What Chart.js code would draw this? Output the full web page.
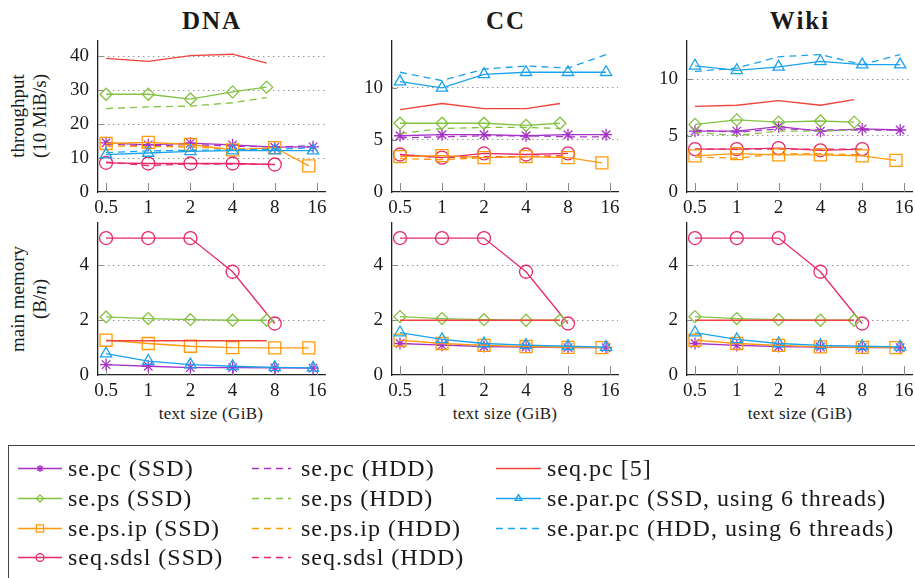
<!DOCTYPE html>
<html>
<head>
<meta charset="utf-8">
<script src="https://cdn.jsdelivr.net/npm/chart.js@4.4.0/dist/chart.umd.min.js"></script>
<style>
  body { margin: 0; background: #fff; width: 915px; height: 578px; overflow: hidden; position: relative;
         font-family: "Liberation Serif", serif; color: #1a1a1a; }
  canvas.panel { position: absolute; }
  .title { position: absolute; top: 8px; font-size: 25px; line-height: 25px; font-weight: bold; letter-spacing: 2px;
           transform: translateX(-50%); white-space: nowrap; }
  .ylab { position: absolute; font-size: 19px; line-height: 19px; white-space: nowrap; transform: translate(-50%, -50%) rotate(-90deg); }
  .xlab { position: absolute; top: 405px; font-size: 17px; line-height: 18px; letter-spacing: 0.3px; white-space: nowrap; transform: translateX(-50%); }
  #legend { position: absolute; left: 8px; top: 445px; width: 920px; height: 140px; border: 1px solid #444; }
  #legendCanvas { position: absolute; left: 0; top: 0; }
  .lt { position: absolute; font-size: 24px; line-height: 24px; letter-spacing: 1px; white-space: nowrap; transform: translateY(-50%); }
</style>
</head>
<body>

<div class="title" style="left:212px">DNA</div>
<div class="title" style="left:506px">CC</div>
<div class="title" style="left:800px">Wiki</div>

<div class="ylab" style="left:17px; top:116px">throughput</div>
<div class="ylab" style="left:39px; top:116px">(10 MiB/s)</div>
<div class="ylab" style="left:17px; top:299px">main memory</div>
<div class="ylab" style="left:39px; top:299px">(B/<i>n</i>)</div>

<div class="xlab" style="left:211px">text size (GiB)</div>
<div class="xlab" style="left:505px">text size (GiB)</div>
<div class="xlab" style="left:800px">text size (GiB)</div>

<canvas class="panel" id="tpDna"></canvas>
<canvas class="panel" id="tpCc"></canvas>
<canvas class="panel" id="tpWiki"></canvas>
<canvas class="panel" id="memDna"></canvas>
<canvas class="panel" id="memCc"></canvas>
<canvas class="panel" id="memWiki"></canvas>

<div id="legend"><canvas id="legendCanvas" width="910" height="140"></canvas></div>

<script>
// text sizes in GiB (x positions of the measurements)
const sizeTicks = [0.5, 1, 2, 4, 8, 16];
const xSe = [0.5, 1, 2, 4, 8, 15];
const xPs = [0.5, 1, 2, 4, 7];
const xIp = [0.5, 1, 2, 4, 8, 14];
const xIpHdd = [0.5, 1, 2, 4, 8];
const xSdsl = [0.5, 1, 2, 4, 8];
const xSeqPc = [0.5, 1, 2, 4, 7];

// throughput (10 MiB/s) - DNA
const tpDnaSePcSsd = [14.5, 13.9, 14.4, 13.9, 13.2, 13.3];
const tpDnaSePcHdd = [14.1, 13.6, 14.0, 13.5, 13.3, 13.6];
const tpDnaSePsSsd = [28.8, 28.8, 27.4, 29.5, 30.9];
const tpDnaSePsHdd = [24.6, 25.1, 25.3, 26.3, 27.8];
const tpDnaIpSsd = [14.3, 14.6, 14.0, 12.4, 13.1, 7.7];
const tpDnaIpHdd = [13.6, 13.4, 13.3, 12.7, 12.8];
const tpDnaSdslSsd = [8.6, 8.4, 8.4, 8.4, 8.1];
const tpDnaSdslHdd = [8.8, 7.8, 8.3, 8.2, 8.1];
const tpDnaSeqPc = [39.4, 38.5, 40.2, 40.6, 38.0];
const tpDnaParSsd = [11.0, 11.5, 12.0, 12.2, 12.2, 12.2];
const tpDnaParHdd = [11.6, 12.1, 12.3, 12.4, 12.6, 13.0];

// throughput - CC
const tpCcSePcSsd = [5.4, 5.5, 5.5, 5.4, 5.5, 5.5];
const tpCcSePcHdd = [5.2, 5.3, 5.4, 5.4, 5.3, 5.3];
const tpCcSePsSsd = [6.6, 6.6, 6.6, 6.4, 6.6];
const tpCcSePsHdd = [5.6, 6.1, 6.2, 6.2, 6.1];
const tpCcIpSsd = [3.4, 3.5, 3.3, 3.4, 3.3, 2.8];
const tpCcIpHdd = [3.2, 3.1, 3.3, 3.4, 3.4];
const tpCcSdslSsd = [3.6, 3.3, 3.7, 3.6, 3.7];
const tpCcSdslHdd = [3.6, 3.3, 3.4, 3.4, 3.5];
const tpCcSeqPc = [7.9, 8.5, 8.0, 8.0, 8.5];
const tpCcParSsd = [10.6, 10.0, 11.3, 11.5, 11.5, 11.5];
const tpCcParHdd = [11.5, 10.7, 11.8, 12.1, 11.9, 13.2];

// throughput - Wiki
const tpWikiSePcSsd = [5.4, 5.4, 5.8, 5.4, 5.6, 5.5];
const tpWikiSePcHdd = [5.5, 5.3, 5.6, 5.5, 5.5, 5.5];
const tpWikiSePsSsd = [6.0, 6.4, 6.2, 6.3, 6.2];
const tpWikiSePsHdd = [5.3, 5.0, 5.4, 5.4, 5.5];
const tpWikiIpSsd = [3.2, 3.4, 3.3, 3.3, 3.2, 2.8];
const tpWikiIpHdd = [3.1, 3.0, 3.4, 3.4, 3.3];
const tpWikiSdslSsd = [3.8, 3.8, 3.9, 3.7, 3.8];
const tpWikiSdslHdd = [3.8, 3.8, 3.8, 3.8, 3.8];
const tpWikiSeqPc = [7.6, 7.7, 8.1, 7.7, 8.2];
const tpWikiParSsd = [11.2, 10.8, 11.1, 11.6, 11.3, 11.3];
const tpWikiParHdd = [10.7, 11.0, 12.0, 12.2, 11.3, 12.2];

// main memory (B/n)
const memDnaSePc = [0.38, 0.32, 0.27, 0.27, 0.26, 0.25];
const memDnaSePs = [2.12, 2.06, 2.02, 2.0, 2.0];
const memDnaIp = [1.27, 1.15, 1.05, 1.0, 0.99, 0.99];
const memDnaSdsl = [5, 5, 5, 3.77, 1.88];
const memDnaSeqPc = [1.25, 1.25, 1.25, 1.25, 1.25];
const memDnaPar = [0.78, 0.51, 0.38, 0.32, 0.28, 0.26];

const memCcSePc = [1.15, 1.09, 1.04, 1.02, 1.0, 1.0];
const memCcSePs = [2.13, 2.06, 2.02, 2.0, 2.0];
const memCcIp = [1.27, 1.15, 1.08, 1.04, 1.01, 1.0];
const memCcSdsl = [5, 5, 5, 3.77, 1.88];
const memCcSeqPc = [2.0, 2.0, 2.0, 2.0, 2.0];
const memCcPar = [1.55, 1.3, 1.15, 1.09, 1.05, 1.02];

const memWikiSePc = [1.15, 1.08, 1.04, 1.02, 1.0, 1.0];
const memWikiSePs = [2.13, 2.06, 2.02, 2.0, 2.0];
const memWikiIp = [1.27, 1.15, 1.08, 1.03, 1.01, 1.0];
const memWikiSdsl = [5, 5, 5, 3.77, 1.88];
const memWikiSeqPc = [2.0, 2.0, 2.0, 2.0, 2.0];
const memWikiPar = [1.55, 1.3, 1.15, 1.08, 1.05, 1.03];

// series look
const styles = {
  sePcSsd:  { color: '#a633c6', point: 'star', r: 6 },
  sePcHdd:  { color: '#a633c6', dash: [7, 5] },
  sePsSsd:  { color: '#84c242', point: 'rectRot', r: 6 },
  sePsHdd:  { color: '#84c242', dash: [7, 5] },
  ipSsd:    { color: '#ff9a0a', point: 'rect', r: 8.5 },
  ipHdd:    { color: '#ff9a0a', dash: [7, 5] },
  sdslSsd:  { color: '#e8286a', point: 'circle', r: 6.5 },
  sdslHdd:  { color: '#e8286a', dash: [7, 5] },
  seqPc:    { color: '#f2433b' },
  parSsd:   { color: '#1aa3ec', point: 'triangle', r: 6.5 },
  parHdd:   { color: '#1aa3ec', dash: [7, 5] }
};

const FONT = '"Liberation Serif", serif';

function ds(key, xs, ys) {
  const s = styles[key];
  return {
    label: key,
    data: xs.map((x, i) => ({ x: x, y: ys[i] })),
    borderColor: s.color,
    borderWidth: 1.3,
    borderDash: s.dash || [],
    pointStyle: s.point || 'circle',
    pointRadius: s.point ? s.r : 0,
    pointBorderColor: s.color,
    pointBackgroundColor: 'rgba(255,255,255,0)',
    pointBorderWidth: 1.3,
    fill: false,
    tension: 0,
    clip: false
  };
}

// short inward tick marks like pgfplots
const inwardTicks = {
  id: 'inwardTicks',
  beforeDatasetsDraw(chart) {
    const { ctx, chartArea: a, scales: { x, y } } = chart;
    ctx.save();
    ctx.strokeStyle = '#8a8a8a';
    ctx.lineWidth = 1;
    ctx.beginPath();
    x.ticks.forEach(t => {
      const px = Math.round(x.getPixelForValue(t.value)) + 0.5;
      ctx.moveTo(px, a.bottom);
      ctx.lineTo(px, a.bottom - 9);
    });
    y.ticks.forEach(t => {
      if (t.value === 0) return;
      const py = Math.round(y.getPixelForValue(t.value)) + 0.5;
      ctx.moveTo(a.left, py);
      ctx.lineTo(a.left + 5, py);
    });
    ctx.stroke();
    ctx.restore();
  }
};

// generous paddings so tick-label padding never pushes the plot area
const PAD_L = 50, PAD_T = 26, PAD_R = 16, PAD_B = 32;

function makePanel(id, left, right, top, bottom, ymax, yticks, datasets) {
  const el = document.getElementById(id);
  const w = right - left + PAD_L + PAD_R;
  const h = bottom - top + PAD_T + PAD_B;
  el.width = w; el.height = h;
  el.style.left = (left - PAD_L) + 'px';
  el.style.top = (top - PAD_T) + 'px';
  el.style.width = w + 'px'; el.style.height = h + 'px';

  return new Chart(el, {
    type: 'line',
    data: { datasets: datasets },
    options: {
      responsive: false,
      animation: false,
      events: [],
      layout: { padding: { top: PAD_T, right: PAD_R, left: 0, bottom: 0 } },
      plugins: { legend: { display: false }, tooltip: { enabled: false } },
      scales: {
        x: {
          type: 'logarithmic',
          min: 0.438,
          max: 18.26,
          afterBuildTicks: s => { s.ticks = sizeTicks.map(v => ({ value: v })); },
          afterFit: s => { s.height = PAD_B; },
          ticks: {
            callback: v => String(v),
            autoSkip: false, maxRotation: 0, padding: 5,
            color: '#1a1a1a', font: { family: FONT, size: 19 }
          },
          grid: { display: false, drawTicks: false },
          border: { display: true, color: '#222', width: 1.3 }
        },
        y: {
          type: 'linear',
          min: 0,
          max: ymax,
          afterBuildTicks: s => { s.ticks = yticks.map(v => ({ value: v })); },
          afterFit: s => { s.width = PAD_L; },
          ticks: { padding: 9, color: '#1a1a1a', font: { family: FONT, size: 19 } },
          grid: {
            color: c => (c.tick && c.tick.value === 0) ? 'rgba(0,0,0,0)' : '#666',
            drawTicks: false,
            lineWidth: 1
          },
          border: { display: true, color: '#222', width: 1.3, dash: [1, 4] }
        }
      }
    },
    plugins: [inwardTicks]
  });
}

const COLS = [[98, 325], [392, 618], [687, 912]];
const TP = [41, 192], MEM = [223, 375];

makePanel('tpDna', COLS[0][0], COLS[0][1], TP[0], TP[1], 44.5, [0, 10, 20, 30, 40], [
  ds('seqPc', xSeqPc, tpDnaSeqPc),
  ds('sePsHdd', xPs, tpDnaSePsHdd), ds('sePsSsd', xPs, tpDnaSePsSsd),
  ds('parHdd', xSe, tpDnaParHdd), ds('parSsd', xSe, tpDnaParSsd),
  ds('sdslHdd', xSdsl, tpDnaSdslHdd), ds('sdslSsd', xSdsl, tpDnaSdslSsd),
  ds('ipHdd', xIpHdd, tpDnaIpHdd), ds('ipSsd', xIp, tpDnaIpSsd),
  ds('sePcHdd', xSe, tpDnaSePcHdd), ds('sePcSsd', xSe, tpDnaSePcSsd)
]);
makePanel('tpCc', COLS[1][0], COLS[1][1], TP[0], TP[1], 14.5, [0, 5, 10], [
  ds('seqPc', xSeqPc, tpCcSeqPc),
  ds('sePsHdd', xPs, tpCcSePsHdd), ds('sePsSsd', xPs, tpCcSePsSsd),
  ds('parHdd', xSe, tpCcParHdd), ds('parSsd', xSe, tpCcParSsd),
  ds('ipHdd', xIpHdd, tpCcIpHdd), ds('ipSsd', xIp, tpCcIpSsd),
  ds('sdslHdd', xSdsl, tpCcSdslHdd), ds('sdslSsd', xSdsl, tpCcSdslSsd),
  ds('sePcHdd', xSe, tpCcSePcHdd), ds('sePcSsd', xSe, tpCcSePcSsd)
]);
makePanel('tpWiki', COLS[2][0], COLS[2][1], TP[0], TP[1], 13.4, [0, 5, 10], [
  ds('seqPc', xSeqPc, tpWikiSeqPc),
  ds('sePsHdd', xPs, tpWikiSePsHdd), ds('sePsSsd', xPs, tpWikiSePsSsd),
  ds('parHdd', xSe, tpWikiParHdd), ds('parSsd', xSe, tpWikiParSsd),
  ds('ipHdd', xIpHdd, tpWikiIpHdd), ds('ipSsd', xIp, tpWikiIpSsd),
  ds('sdslHdd', xSdsl, tpWikiSdslHdd), ds('sdslSsd', xSdsl, tpWikiSdslSsd),
  ds('sePcHdd', xSe, tpWikiSePcHdd), ds('sePcSsd', xSe, tpWikiSePcSsd)
]);

makePanel('memDna', COLS[0][0], COLS[0][1], MEM[0], MEM[1], 5.55, [0, 2, 4], [
  ds('seqPc', xSeqPc, memDnaSeqPc),
  ds('sePsSsd', xPs, memDnaSePs),
  ds('ipSsd', xIp, memDnaIp),
  ds('parSsd', xSe, memDnaPar),
  ds('sePcSsd', xSe, memDnaSePc),
  ds('sdslSsd', xSdsl, memDnaSdsl)
]);
makePanel('memCc', COLS[1][0], COLS[1][1], MEM[0], MEM[1], 5.55, [0, 2, 4], [
  ds('seqPc', xSeqPc, memCcSeqPc),
  ds('sePsSsd', xPs, memCcSePs),
  ds('parSsd', xSe, memCcPar),
  ds('ipSsd', xIp, memCcIp),
  ds('sePcSsd', xSe, memCcSePc),
  ds('sdslSsd', xSdsl, memCcSdsl)
]);
makePanel('memWiki', COLS[2][0], COLS[2][1], MEM[0], MEM[1], 5.55, [0, 2, 4], [
  ds('seqPc', xSeqPc, memWikiSeqPc),
  ds('sePsSsd', xPs, memWikiSePs),
  ds('parSsd', xSe, memWikiPar),
  ds('ipSsd', xIp, memWikiIp),
  ds('sePcSsd', xSe, memWikiSePc),
  ds('sdslSsd', xSdsl, memWikiSdsl)
]);

// legend: three columns, samples drawn on a canvas, labels as text
const legendItems = [
  { key: 'sePcSsd', text: 'se.pc (SSD)', col: 0, row: 0 },
  { key: 'sePsSsd', text: 'se.ps (SSD)', col: 0, row: 1 },
  { key: 'ipSsd', text: 'se.ps.ip (SSD)', col: 0, row: 2 },
  { key: 'sdslSsd', text: 'seq.sdsl (SSD)', col: 0, row: 3 },
  { key: 'sePcHdd', text: 'se.pc (HDD)', col: 1, row: 0 },
  { key: 'sePsHdd', text: 'se.ps (HDD)', col: 1, row: 1 },
  { key: 'ipHdd', text: 'se.ps.ip (HDD)', col: 1, row: 2 },
  { key: 'sdslHdd', text: 'seq.sdsl (HDD)', col: 1, row: 3 },
  { key: 'seqPc', text: 'seq.pc [5]', col: 2, row: 0 },
  { key: 'parSsd', text: 'se.par.pc (SSD, using 6 threads)', col: 2, row: 1 },
  { key: 'parHdd', text: 'se.par.pc (HDD, using 6 threads)', col: 2, row: 2 }
];
const legendColX = [[9, 53, 59], [243, 282, 292], [487, 532, 538]]; // sample start, end, text x (box coords)
const legendRowY = [22, 52, 82, 111];

const lc = document.getElementById('legendCanvas');
const lctx = lc.getContext('2d');
const legendBox = document.getElementById('legend');
legendItems.forEach(it => {
  const s = styles[it.key];
  const [x0, x1, tx] = legendColX[it.col];
  const y = legendRowY[it.row] + 0.5;
  lctx.save();
  lctx.strokeStyle = s.color;
  lctx.lineWidth = 1.3;
  lctx.setLineDash(s.dash || []);
  lctx.beginPath();
  lctx.moveTo(x0, y);
  lctx.lineTo(x1, y);
  lctx.stroke();
  lctx.setLineDash([]);
  if (s.point && Chart.helpers && Chart.helpers.drawPoint) {
    lctx.fillStyle = 'rgba(255,255,255,0)';
    Chart.helpers.drawPoint(lctx, { pointStyle: s.point, radius: s.r * 0.6, borderWidth: 1.2, rotation: 0 }, (x0 + x1) / 2, y);
  }
  lctx.restore();
  const t = document.createElement('div');
  t.className = 'lt';
  t.style.left = tx + 'px';
  t.style.top = legendRowY[it.row] + 'px';
  t.textContent = it.text;
  legendBox.appendChild(t);
});
</script>
</body>
</html>
